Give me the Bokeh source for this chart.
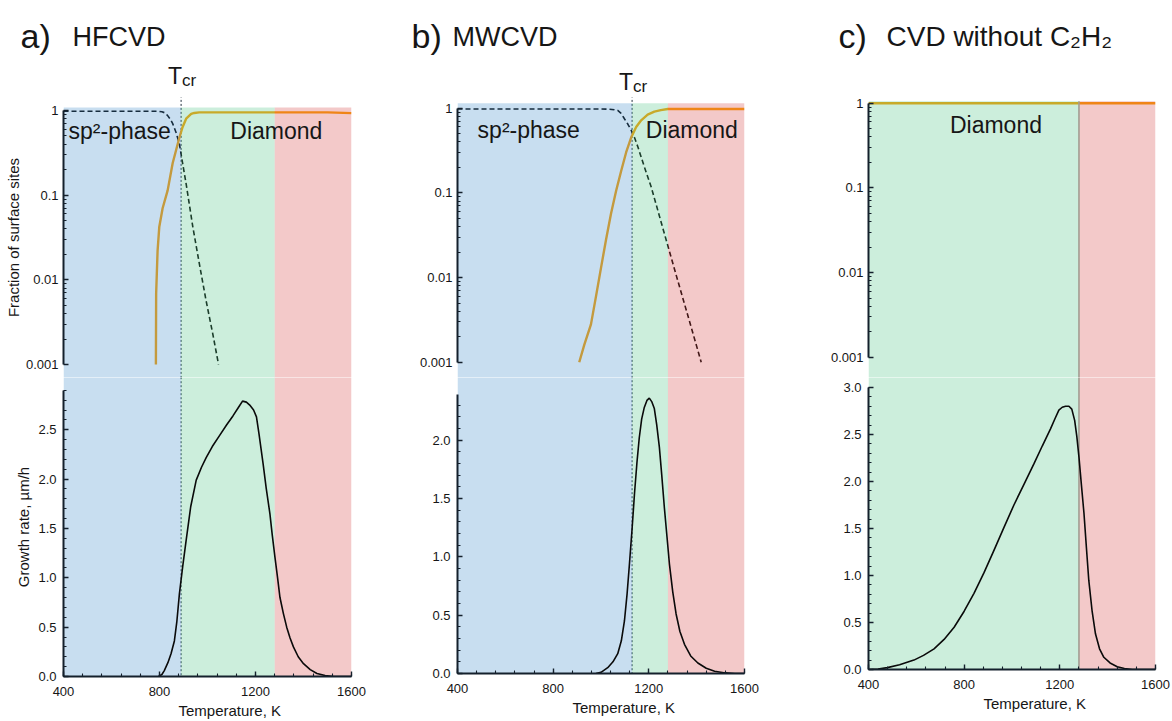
from bokeh.plotting import figure
from bokeh.layouts import column, row
from bokeh.models import (Range1d, FixedTicker, CustomJSTickFormatter,
                          PrintfTickFormatter, Title)
from bokeh.core.properties import value
from bokeh.embed import file_html
from bokeh.resources import INLINE

FONT = "Liberation Sans"

# ------------------------------------------------------------------ data
T_MIN, T_MAX = 400, 1600

# a) HFCVD
a_tcr = 890
a_region_left = [400, 890, 1280]
a_region_right = [890, 1280, 1600]
a_diamond_T = [785, 786, 792, 799, 813, 834, 855, 883, 896, 911, 932, 945, 966, 1100, 1300, 1500, 1600]
a_diamond_f = [0.001, 0.0068, 0.022, 0.042, 0.07, 0.114, 0.24, 0.48, 0.635, 0.80, 0.91, 0.935, 0.95,
               0.95, 0.95, 0.95, 0.93]
a_sp2_T = [400, 600, 790, 810, 822, 834, 845, 855, 862, 869, 876, 883, 894, 911, 939, 966, 994, 1022, 1046]
a_sp2_f = [0.98, 0.98, 0.98, 0.965, 0.94, 0.87, 0.79, 0.70, 0.62, 0.55, 0.47, 0.40, 0.26, 0.136,
           0.042, 0.0155, 0.0057, 0.0023, 0.001]
a_growth_T = [796, 810, 820, 835, 848, 862, 872, 883, 897, 911, 930, 953, 975, 995, 1020, 1050, 1080,
              1106, 1130, 1146, 1162, 1176, 1192, 1204, 1215, 1232, 1245, 1260, 1270, 1281, 1292,
              1302, 1316, 1330, 1344, 1358, 1378, 1400, 1428, 1456, 1490, 1526, 1600]
a_growth = [0.0, 0.02, 0.06, 0.14, 0.23, 0.36, 0.55, 0.84, 1.12, 1.38, 1.72, 1.99, 2.12, 2.22, 2.33,
            2.44, 2.55, 2.64, 2.73, 2.79, 2.78, 2.75, 2.70, 2.63, 2.45, 2.15, 1.90, 1.65, 1.43, 1.21,
            1.00, 0.80, 0.64, 0.50, 0.39, 0.30, 0.20, 0.13, 0.07, 0.03, 0.01, 0.0, 0.0]

# b) MWCVD
b_tcr = 1130
b_region_left = [400, 1130, 1280]
b_region_right = [1130, 1280, 1600]
b_diamond_T = [909, 930, 958, 980, 1000, 1021, 1042, 1063, 1084, 1105, 1126, 1147, 1168, 1195, 1223,
               1250, 1279, 1400, 1600]
b_diamond_f = [0.001, 0.0016, 0.0028, 0.0062, 0.013, 0.028, 0.057, 0.105, 0.18, 0.30, 0.45, 0.60,
               0.72, 0.84, 0.91, 0.95, 0.98, 0.98, 0.98]
b_sp2_T = [400, 800, 1000, 1028, 1056, 1070, 1084, 1098, 1112, 1126, 1140, 1154, 1182, 1210, 1265,
           1321, 1377, 1419]
b_sp2_f = [0.98, 0.98, 0.98, 0.975, 0.96, 0.94, 0.87, 0.75, 0.65, 0.55, 0.45, 0.35, 0.20, 0.117,
           0.033, 0.0092, 0.0026, 0.001]
b_growth_T = [979, 1000, 1028, 1050, 1070, 1085, 1098, 1109, 1119, 1130, 1140, 1150, 1160, 1170, 1181,
              1192, 1202, 1212, 1223, 1233, 1244, 1254, 1265, 1276, 1286, 1300, 1314, 1330, 1349,
              1375, 1405, 1440, 1475, 1520, 1560, 1600]
b_growth = [0.0, 0.01, 0.05, 0.10, 0.17, 0.28, 0.45, 0.68, 0.94, 1.24, 1.54, 1.80, 2.02, 2.18, 2.28,
            2.34, 2.36, 2.33, 2.27, 2.13, 1.94, 1.70, 1.42, 1.17, 0.94, 0.70, 0.51, 0.36, 0.25,
            0.15, 0.09, 0.045, 0.02, 0.005, 0.0, 0.0]

# c) CVD without C2H2
c_region_left = [400, 1280]
c_region_right = [1280, 1600]
c_diamond_T = [400, 1600]
c_diamond_f = [1.0, 1.0]
c_growth_T = [400, 440, 479, 530, 590, 630, 674, 716, 758, 800, 841, 883, 925, 966, 1008, 1050, 1092,
              1127, 1161, 1180, 1196, 1210, 1224, 1238, 1250, 1262, 1271, 1280, 1290, 1301, 1311,
              1321, 1335, 1349, 1366, 1384, 1410, 1440, 1470, 1503, 1600]
c_growth = [0.0, 0.005, 0.02, 0.05, 0.10, 0.15, 0.22, 0.32, 0.45, 0.62, 0.81, 1.03, 1.27, 1.51, 1.75,
            1.97, 2.19, 2.38, 2.56, 2.67, 2.76, 2.79, 2.80, 2.80, 2.77, 2.65, 2.48, 2.26, 1.97, 1.66,
            1.30, 0.95, 0.62, 0.38, 0.22, 0.13, 0.07, 0.03, 0.01, 0.0, 0.0]

x_major_ticks = [400, 800, 1200, 1600]
log_major_ticks = [0.001, 0.01, 0.1, 1]

# ------------------------------------------------------------------ styles / layout
BLUE, GREEN, RED = "#4891CD", "#55C68A", "#D74B4B"
SHADE_ALPHA = 0.3
GOLD = "#FA9E00"
AXIS_COLOR = "#14202c"
TEXT_COLOR = "#161616"
TCR_COLOR = "#22303e"

HEADER_H = 97
TOP_H = 280
BOT_H = 344
DEC_PX = 84.67


def style_axis(ax):
    ax.axis_line_color = AXIS_COLOR
    ax.axis_line_width = 2
    ax.major_tick_line_color = AXIS_COLOR
    ax.minor_tick_line_color = AXIS_COLOR
    ax.major_tick_line_width = 1.4
    ax.minor_tick_line_width = 1.1
    ax.major_tick_in = 5
    ax.major_tick_out = 0
    ax.minor_tick_in = 3
    ax.minor_tick_out = 0
    ax.major_label_text_font = FONT
    ax.major_label_text_font_size = "13px"
    ax.major_label_text_color = TEXT_COLOR
    ax.axis_label_text_font = FONT
    ax.axis_label_text_font_size = "15px"
    ax.axis_label_text_font_style = "normal"
    ax.axis_label_text_color = TEXT_COLOR


def make_panel(spec):
    lb, fw, rb = spec["lb"], spec["fw"], spec["rb"]
    width = lb + fw + rb
    hi = 10 ** (spec["one_px"] / DEC_PX)
    lo = 10 ** ((spec["one_px"] - TOP_H) / DEC_PX)
    shade_top = 10 ** ((spec["one_px"] - spec["shade_px"]) / DEC_PX)
    edge_x = spec["reg_left"][-1]

    # ---------------- top: fraction of surface sites (log scale)
    pt = figure(width=width, height=TOP_H, x_range=Range1d(T_MIN, T_MAX),
                y_range=Range1d(lo, hi), y_axis_type="log", x_axis_location=None,
                toolbar_location=None, output_backend="svg",
                min_border_left=lb, min_border_right=rb, min_border_top=0, min_border_bottom=0)
    pt.grid.visible = False
    pt.outline_line_color = None
    pt.background_fill_color = "white"
    pt.border_fill_color = "white"

    if spec.get("tcr"):
        pt.segment(x0=[spec["tcr"]], y0=[lo / 3], x1=[spec["tcr"]], y1=[hi * 3],
                   line_color=TCR_COLOR, line_dash="2 2", line_width=1)
    if spec.get("sp2_T"):
        pt.line(spec["sp2_T"], spec["sp2_f"], line_color="#000000", line_dash="5 3",
                line_width=1.6)
    pt.line(spec["diamond_T"], spec["diamond_f"], line_color=GOLD, line_width=2.4)
    pt.quad(left=spec["reg_left"], right=spec["reg_right"], bottom=lo / 3, top=shade_top,
            fill_color=spec["reg_colors"], fill_alpha=SHADE_ALPHA, line_color=None)
    if spec.get("edge"):
        pt.segment(x0=[edge_x], y0=[lo / 3], x1=[edge_x], y1=[shade_top],
                   line_color="#a29d92", line_width=1.6)
    for (tx, txt, align) in spec["labels"]:
        pt.text(x=[tx], y=[1], text=[txt], y_offset=spec["label_dy"],
                text_font=value(FONT), text_font_size="23px", text_color=TEXT_COLOR,
                text_align=align, text_baseline="alphabetic")

    ya = pt.yaxis[0]
    style_axis(ya)
    ya.bounds = (0.001, 1)
    minors = [k * 10 ** e for e in (-3, -2, -1) for k in range(2, 10)]
    ya.ticker = FixedTicker(ticks=log_major_ticks, minor_ticks=minors)
    ya.formatter = CustomJSTickFormatter(code="return tick.toString();")
    ya.major_label_standoff = 5
    ya.axis_label_standoff = 1
    if spec.get("ylab"):
        ya.axis_label = "Fraction of surface sites"

    # ---------------- bottom: growth rate (linear scale)
    frame_h = spec["zero_px"]
    ytop = frame_h / spec["lin_px"]
    pb = figure(width=width, height=BOT_H, x_range=Range1d(T_MIN, T_MAX),
                y_range=Range1d(0, ytop), toolbar_location=None, output_backend="svg",
                min_border_left=lb, min_border_right=rb, min_border_top=0,
                min_border_bottom=BOT_H - frame_h)
    pb.grid.visible = False
    pb.outline_line_color = None
    pb.background_fill_color = "white"
    pb.border_fill_color = "white"

    if spec.get("tcr"):
        pb.segment(x0=[spec["tcr"]], y0=[-1], x1=[spec["tcr"]], y1=[ytop * 1.2],
                   line_color=TCR_COLOR, line_dash="2 2", line_width=1)
    pb.quad(left=spec["reg_left"], right=spec["reg_right"], bottom=0, top=ytop * 1.2,
            fill_color=spec["reg_colors"], fill_alpha=SHADE_ALPHA, line_color=None)
    if spec.get("edge"):
        pb.segment(x0=[edge_x], y0=[0], x1=[edge_x], y1=[ytop * 1.2],
                   line_color="#a29d92", line_width=1.6)
    pb.line(spec["growth_T"], spec["growth"], line_color="#0a0a0a", line_width=1.6)

    yb = pb.yaxis[0]
    style_axis(yb)
    yb.bounds = (0, spec["gr_axis_top"])
    yb.ticker = FixedTicker(ticks=spec["gr_ticks"],
                            minor_ticks=[i / 10 for i in range(0, int(spec["gr_axis_top"] * 10) + 1)])
    yb.formatter = PrintfTickFormatter(format="%.1f")
    yb.major_label_standoff = 7
    yb.axis_label_standoff = 3
    if spec.get("ylab"):
        yb.axis_label = "Growth rate, \u00b5m/h"

    xb = pb.xaxis[0]
    style_axis(xb)
    xb.ticker = FixedTicker(ticks=x_major_ticks,
                            minor_ticks=list(range(T_MIN, T_MAX + 1, 80)))
    xb.major_label_standoff = 10
    pb.add_layout(Title(text="Temperature, K", align="left", offset=115, text_font=FONT,
                        text_font_size="15px", text_font_style="normal",
                        text_color=TEXT_COLOR, standoff=3), "below")
    return column(pt, pb, spacing=0)


spec_a = dict(lb=63, fw=288, rb=40, one_px=13, shade_px=10, zero_px=299, lin_px=98.7,
              gr_axis_top=2.9, gr_ticks=[0, 0.5, 1.0, 1.5, 2.0, 2.5],
              reg_left=a_region_left, reg_right=a_region_right, reg_colors=[BLUE, GREEN, RED],
              diamond_T=a_diamond_T, diamond_f=a_diamond_f, sp2_T=a_sp2_T, sp2_f=a_sp2_f,
              growth_T=a_growth_T, growth=a_growth, tcr=a_tcr, ylab=True, label_dy=20,
              labels=[(421, "sp\u00b2-phase", "left"), (1287, "Diamond", "center")])
spec_b = dict(lb=66, fw=287, rb=56, one_px=10.7, shade_px=5.7, zero_px=296, lin_px=116.7,
              gr_axis_top=2.39, gr_ticks=[0, 0.5, 1.0, 1.5, 2.0],
              reg_left=b_region_left, reg_right=b_region_right, reg_colors=[BLUE, GREEN, RED],
              diamond_T=b_diamond_T, diamond_f=b_diamond_f, sp2_T=b_sp2_T, sp2_f=b_sp2_f,
              growth_T=b_growth_T, growth=b_growth, tcr=b_tcr, label_dy=22,
              labels=[(484, "sp\u00b2-phase", "left"), (1380, "Diamond", "center")])
spec_c = dict(lb=68, fw=287, rb=17, one_px=5.7, shade_px=3.7, zero_px=292, lin_px=94.0,
              gr_axis_top=3.0, gr_ticks=[0, 0.5, 1.0, 1.5, 2.0, 2.5, 3.0],
              reg_left=c_region_left, reg_right=c_region_right, reg_colors=[GREEN, RED],
              diamond_T=c_diamond_T, diamond_f=c_diamond_f,
              growth_T=c_growth_T, growth=c_growth, edge=True, label_dy=22,
              labels=[(933, "Diamond", "center")])

col_a = make_panel(spec_a)
col_b = make_panel(spec_b)
col_c = make_panel(spec_c)

# ---------------- header with panel titles and T_cr markers
hdr = figure(width=1172, height=HEADER_H, x_range=Range1d(0, 1172), y_range=Range1d(HEADER_H, 0),
             x_axis_location=None, y_axis_location=None, toolbar_location=None,
             output_backend="svg", min_border_left=0, min_border_right=0,
             min_border_top=0, min_border_bottom=0)
hdr.grid.visible = False
hdr.outline_line_color = None


def htext(x, y, txt, size, align="left"):
    hdr.text(x=[x], y=[y], text=[txt], text_font=value(FONT), text_font_size=size,
             text_color=TEXT_COLOR, text_align=align, text_baseline="alphabetic")


htext(20, 35, "a)", "34px")
htext(72, 36, "HFCVD", "27px")
htext(411, 35, "b)", "34px")
htext(452, 36, "MWCVD", "27px")
htext(838, 35, "c)", "34px")
htext(886, 36, "CVD without C\u2082H\u2082", "28px")

# T_cr markers aligned with the critical temperatures of panels a and b
x_tcr_a = spec_a["lb"] + (a_tcr - T_MIN) * spec_a["fw"] / (T_MAX - T_MIN)
x_tcr_b = 391 + spec_b["lb"] + (b_tcr - T_MIN) * spec_b["fw"] / (T_MAX - T_MIN)
for xt, yb in ((x_tcr_a, 75), (x_tcr_b, 81)):
    htext(xt + 1, yb, "T", "23px", "right")
    htext(xt + 1, yb + 5, "cr", "17px", "left")

layout = column(hdr, row(col_a, col_b, col_c, spacing=0), spacing=0)

with open("out.html", "w") as f:
    f.write(file_html(layout, INLINE))
